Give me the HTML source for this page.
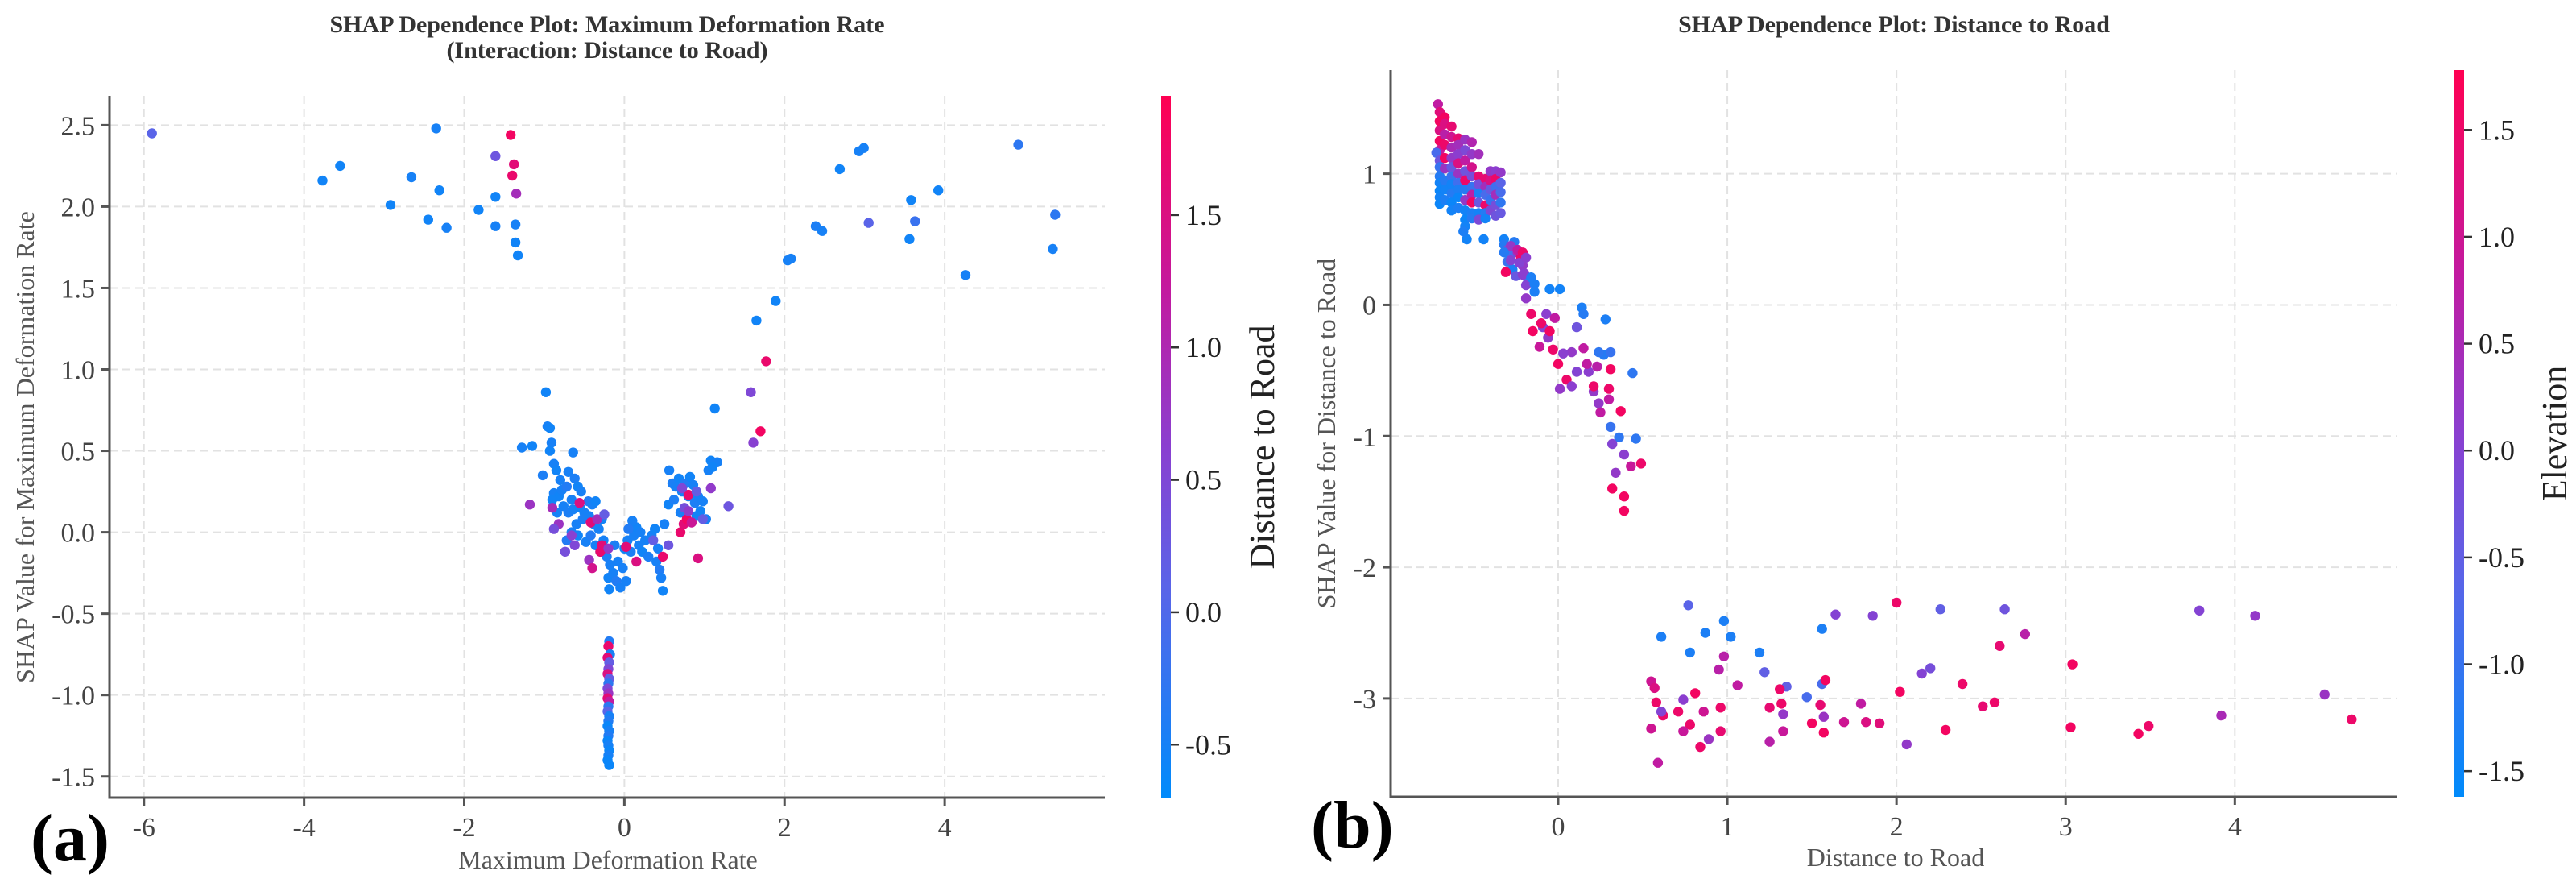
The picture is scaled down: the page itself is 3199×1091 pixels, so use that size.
<!DOCTYPE html>
<html><head><meta charset="utf-8">
<style>
html,body{margin:0;padding:0;background:#fff;}
svg{display:block;}
text{font-family:"Liberation Serif",serif;}
</style></head>
<body>
<svg id="fig" width="3199" height="1091" viewBox="0 0 3199 1091" xmlns="http://www.w3.org/2000/svg">
<defs>
<linearGradient id="cmap" x1="0" y1="1" x2="0" y2="0">
<stop offset="0" stop-color="#008bfb"/><stop offset="0.3" stop-color="#5a64e8"/><stop offset="0.5" stop-color="#8a3fd0"/><stop offset="0.72" stop-color="#c21aa0"/><stop offset="1" stop-color="#ff0052"/>
</linearGradient>
</defs>
<g id="pa"></g>
<g id="pb"></g>
</svg>
<script>
// Panel (a) data: [feature value, SHAP value, interaction value]
const aTop = [[-5.9,2.45,0.1],[-2.35,2.48,-0.5],[-3.77,2.16,-0.55],[-3.55,2.25,-0.55],[-2.92,2.01,-0.55],[-2.66,2.18,-0.5],[-2.31,2.10,-0.55],[-2.45,1.92,-0.55],[-2.22,1.87,-0.5],[-1.82,1.98,-0.55],[-1.61,2.06,-0.55],[-1.61,1.88,-0.5],[-1.61,2.31,0.3],[-1.42,2.44,1.8],[-1.38,2.26,1.6],[-1.40,2.19,1.7],[-1.35,2.08,0.9],[-1.36,1.89,-0.5],[-1.36,1.78,-0.55],[-1.33,1.70,-0.55],
[4.92,2.38,-0.3],[2.99,2.36,-0.5],[2.93,2.34,-0.5],[2.69,2.23,-0.55],[3.58,2.04,-0.55],[3.92,2.10,-0.55],[3.05,1.90,0.1],[3.63,1.91,-0.2],[3.56,1.80,-0.55],[2.39,1.88,-0.45],[2.47,1.85,-0.5],[2.04,1.67,-0.5],[2.08,1.68,-0.5],[5.38,1.95,-0.3],[5.35,1.74,-0.5],[4.26,1.58,-0.5],[1.89,1.42,-0.55],[1.65,1.30,-0.55],[1.77,1.05,1.7],[1.58,0.86,0.5],[1.70,0.62,1.8],[1.61,0.55,0.6],[1.13,0.76,-0.55]];
const aV = [[-0.98,0.86,-0.55],[-0.96,0.65,-0.5],[-0.93,0.64,-0.55],[-1.28,0.52,-0.5],[-1.15,0.53,-0.55],[-0.91,0.55,-0.5],[-0.93,0.50,-0.55],[-0.64,0.49,-0.5],[-1.02,0.35,-0.45],[-0.88,0.42,-0.5],[-0.85,0.38,-0.55],[-0.70,0.37,-0.5],[-0.62,0.33,-0.45],[-0.88,0.24,-0.5],[-0.82,0.22,-0.55],[-0.78,0.26,-0.5],[-0.72,0.28,-0.4],[-0.66,0.20,-0.5],[-0.58,0.28,-0.55],[-0.54,0.25,-0.5],[-0.90,0.20,-0.55],[-0.76,0.16,-0.5],[-0.70,0.12,-0.45],[-0.64,0.14,-0.5],[-0.55,0.15,-0.55],[-0.50,0.12,-0.5],[-0.45,0.19,-0.4],[-0.40,0.17,-0.5],[-0.36,0.19,-0.55],[-0.60,0.05,-0.5],[-0.52,0.08,-0.45],[-0.44,0.10,-0.5],[-0.38,0.05,-0.55],[-0.32,0.02,-0.5],[-0.72,-0.05,-0.4],[-0.66,0.00,-0.5],[-0.58,-0.02,-0.55],[-0.48,-0.06,-0.5],[-0.42,-0.02,-0.4],[-0.36,-0.08,-0.5],[-0.30,-0.12,-0.55],[-0.26,-0.05,-0.5],[-0.22,-0.15,-0.45],[-0.18,-0.20,-0.5],[-0.20,-0.28,-0.55],[-0.14,-0.25,-0.5],[-0.10,-0.30,-0.4],[-0.08,-0.18,-0.5],[-0.19,-0.35,-0.55],[-0.05,-0.34,-0.5],[-0.02,-0.22,-0.5],[0.00,-0.10,-0.55],[0.04,-0.05,-0.5],[0.08,-0.12,-0.45],[0.12,-0.02,-0.5],[0.15,0.03,-0.55],[0.10,0.07,-0.5],[0.05,0.02,-0.4],[0.18,-0.08,-0.5],[0.22,-0.12,-0.55],[0.26,-0.05,-0.5],[0.30,-0.15,-0.45],[0.34,-0.02,-0.5],[0.38,0.02,-0.55],[0.42,-0.10,-0.5],[0.44,-0.23,-0.4],[0.46,-0.28,-0.5],[0.48,-0.36,-0.55],[0.40,-0.18,-0.5],[0.50,0.05,-0.5],[0.55,0.17,-0.55],[0.56,0.38,-0.5],[0.60,0.30,-0.45],[0.64,0.28,-0.5],[0.68,0.33,-0.55],[0.72,0.25,-0.5],[0.76,0.30,-0.4],[0.80,0.22,-0.5],[0.82,0.34,-0.55],[0.86,0.29,-0.5],[0.88,0.18,-0.45],[0.92,0.22,-0.5],[0.95,0.13,-0.55],[0.98,0.19,-0.5],[1.02,0.08,-0.5],[0.90,0.10,-0.55],[0.70,0.12,-0.5],[0.62,0.20,-0.45],[1.05,0.38,-0.5],[1.08,0.44,-0.55],[1.12,0.42,-0.5],[1.16,0.43,-0.5],[1.10,0.40,-0.55],[0.02,-0.30,-0.5],[-0.12,-0.08,-0.45],[0.20,0.00,-0.5],[-0.28,0.08,-0.55],[-0.80,0.32,-0.5],[-0.84,0.12,-0.5],
[-1.18,0.17,0.8],[-0.90,0.15,0.9],[-0.82,0.05,0.8],[-0.88,0.02,0.4],[-0.74,-0.12,0.4],[-0.66,-0.02,0.6],[-0.56,0.18,1.5],[-0.42,0.06,1.6],[-0.34,0.08,0.9],[-0.44,-0.17,0.8],[-0.40,-0.22,1.4],[-0.30,-0.12,1.7],[-0.28,-0.08,1.6],[-0.20,-0.10,0.7],[0.02,-0.09,1.6],[0.15,-0.18,1.5],[0.48,-0.15,1.7],[0.70,0.00,1.7],[0.74,0.05,1.6],[0.78,0.08,1.8],[0.80,0.23,1.7],[0.84,0.06,1.3],[0.92,-0.16,1.5],[0.72,0.27,0.5],[0.75,0.15,0.4],[0.90,0.25,0.2],[1.08,0.27,0.7],[1.30,0.16,0.3],[0.80,0.13,0.7],[0.98,0.08,0.2],[-0.25,0.11,0.2],[0.36,-0.05,0.2],[0.55,-0.08,0.3],[-0.62,-0.08,0.5]];
const aCol = [[-0.19,-0.67,-0.4],[-0.20,-0.70,1.7],[-0.18,-0.75,-0.5],[-0.21,-0.77,1.6],[-0.19,-0.80,0.2],[-0.20,-0.84,0.5],[-0.21,-0.87,1.5],[-0.19,-0.90,0.2],[-0.20,-0.93,-0.3],[-0.21,-0.96,0.5],[-0.20,-0.99,0.8],[-0.21,-1.02,1.6],[-0.19,-1.04,1.2],[-0.20,-1.07,-0.3],[-0.21,-1.10,0.1],[-0.19,-1.13,-0.5],[-0.20,-1.16,-0.4],[-0.21,-1.19,-0.6],[-0.19,-1.22,-0.5],[-0.20,-1.25,-0.4],[-0.21,-1.28,-0.6],[-0.20,-1.31,-0.5],[-0.19,-1.34,-0.6],[-0.20,-1.37,-0.5],[-0.21,-1.40,-0.6],[-0.19,-1.43,-0.6]];
const aXTicks = [-6,-4,-2,0,2,4];
const aYTicks = [-1.5,-1.0,-0.5,0.0,0.5,1.0,1.5,2.0,2.5];
const aYTickLabels = ["-1.5","-1.0","-0.5","0.0","0.5","1.0","1.5","2.0","2.5"];
const aCTicks = [-0.5,0.0,0.5,1.0,1.5];
const aCTickLabels = ["-0.5","0.0","0.5","1.0","1.5"];

// Panel (b) data
const bTop = [[-0.71,1.53,0.8],[-0.70,1.47,1.3],[-0.70,1.40,1.6],[-0.70,1.33,1.2],[-0.70,1.25,1.6],[-0.70,1.18,0.9],[-0.72,1.16,-0.8],[-0.70,1.10,-0.3],[-0.70,1.05,-1.0],[-0.70,0.98,-1.2],[-0.70,0.93,-1.4],[-0.70,0.87,-1.5],[-0.70,0.82,-1.4],[-0.70,0.77,-1.5],
[-0.67,1.43,1.6],[-0.67,1.38,1.2],[-0.67,1.30,0.7],[-0.67,1.22,1.5],[-0.67,1.12,1.6],[-0.67,1.04,0.3],[-0.67,0.95,-1.2],[-0.67,0.88,-1.4],[-0.67,0.80,-1.3],
[-0.63,1.36,1.4],[-0.63,1.28,1.0],[-0.63,1.20,0.5],[-0.63,1.12,0.2],[-0.63,1.05,-0.4],[-0.63,0.98,-1.0],[-0.63,0.92,-1.4],[-0.63,0.85,-1.2],[-0.63,0.78,-1.5],[-0.63,0.72,-1.4],
[-0.59,1.27,1.4],[-0.59,1.22,0.4],[-0.59,1.15,0.1],[-0.59,1.08,1.2],[-0.59,1.00,0.3],[-0.59,0.93,-0.9],[-0.59,0.88,-1.3],[-0.59,0.82,-1.5],[-0.59,0.74,-1.3],
[-0.55,1.26,0.3],[-0.55,1.18,-0.1],[-0.55,1.10,0.8],[-0.55,1.02,-0.3],[-0.55,0.95,1.5],[-0.55,0.88,-1.2],[-0.55,0.80,0.2],[-0.55,0.72,-1.4],[-0.55,0.65,-1.5],[-0.55,0.60,-1.4],
[-0.51,1.24,0.6],[-0.51,1.15,0.2],[-0.51,1.05,1.1],[-0.51,0.98,-0.2],[-0.51,0.90,-1.0],[-0.51,0.84,0.7],[-0.51,0.78,1.6],[-0.51,0.70,-1.3],[-0.51,0.66,-1.2],
[-0.47,1.15,0.4],[-0.47,0.98,1.4],[-0.47,0.92,-0.2],[-0.47,0.85,-1.3],[-0.47,0.78,-0.4],[-0.47,0.70,-1.4],[-0.47,0.65,-0.1],
[-0.43,0.96,1.4],[-0.43,0.90,0.4],[-0.43,0.84,-0.8],[-0.43,0.76,1.5],[-0.43,0.70,-1.2],[-0.43,0.66,-1.4],
[-0.40,1.02,0.2],[-0.40,0.95,1.2],[-0.40,0.88,-0.4],[-0.40,0.80,-1.0],[-0.40,0.72,-0.1],
[-0.37,1.02,0.1],[-0.37,0.96,1.5],[-0.37,0.90,-0.9],[-0.37,0.84,0.4],[-0.37,0.76,-0.2],[-0.37,0.68,-0.3],
[-0.34,1.01,0.2],[-0.34,0.93,-0.6],[-0.34,0.86,-0.8],[-0.34,0.78,-1.1],[-0.34,0.70,-0.4],
[-0.54,0.50,-1.4],[-0.44,0.50,-1.4],[-0.32,0.50,-1.4],[-0.56,0.56,-1.3],
[-0.32,0.46,-1.2],[-0.30,0.42,-0.2],[-0.28,0.38,-0.8],[-0.26,0.48,-1.2],[-0.24,0.40,0.3],[-0.22,0.36,1.5],[-0.21,0.30,0.2],[-0.30,0.33,-1.0],[-0.27,0.27,-1.3],[-0.31,0.25,1.6],[-0.25,0.22,-0.4],[-0.20,0.24,0.1],[-0.18,0.20,-1.0],
[-0.19,0.05,0.2],[-0.19,0.15,0.0],[-0.21,0.23,0.1],[-0.23,0.32,0.0],[-0.28,0.45,0.2],[-0.24,0.42,0.8],[-0.21,0.40,1.5],[-0.32,0.40,-1.2],[-0.28,0.34,0.0],[-0.19,0.36,0.1],[-0.14,0.16,-1.3],
[-0.16,0.21,-1.3],[-0.14,0.10,-1.3],[-0.05,0.12,-1.4],[0.01,0.12,-1.4],[0.14,-0.02,-1.3],[0.15,-0.07,-1.2],[0.28,-0.11,-1.3],[0.11,-0.17,-0.3],[0.27,-0.38,-1.2],[0.31,-0.36,-1.0],[0.44,-0.52,-1.1],
[-0.16,-0.07,1.5],[-0.15,-0.20,1.6],[-0.11,-0.32,0.9],[-0.03,-0.34,1.5],[0.00,-0.45,1.6],[0.01,-0.64,0.2],[0.05,-0.57,1.5],[0.08,-0.62,0.1],[0.11,-0.51,0.0],[0.18,-0.51,0.1],[0.17,-0.45,0.8],[0.23,-0.47,0.7],[0.21,-0.66,0.2],[0.24,-0.36,-1.1],[0.21,-0.62,1.5],[0.15,-0.33,0.8],[0.08,-0.36,0.2],[0.03,-0.37,0.1],[-0.06,-0.25,0.2],[-0.09,-0.17,0.0],[-0.07,-0.07,0.1],[-0.02,-0.10,0.8],[-0.10,-0.14,1.5],[-0.05,-0.20,1.6],
[0.31,-0.49,1.6],[0.30,-0.64,1.5],[0.24,-0.75,0.2],[0.30,-0.72,0.8],[0.25,-0.82,0.8],[0.37,-0.81,1.6],[0.31,-0.93,-1.0],[0.36,-1.01,-1.1],[0.46,-1.02,-1.1],[0.32,-1.06,0.0],[0.39,-1.14,0.1],[0.49,-1.21,1.5],[0.43,-1.23,0.9],[0.34,-1.28,0.2],[0.32,-1.40,1.6],[0.39,-1.46,1.6],[0.39,-1.57,1.6]];
const bLow = [[0.77,-2.29,-0.6],[0.61,-2.53,-1.3],[0.78,-2.65,-1.3],[0.87,-2.50,-1.3],[0.98,-2.41,-1.3],[1.02,-2.53,-1.3],[1.19,-2.65,-1.3],[1.22,-2.80,-0.5],[1.56,-2.47,-1.3],[1.47,-2.99,-0.8],[1.56,-2.89,-0.8],[1.35,-2.91,-0.5],[1.64,-2.36,0.0],[1.86,-2.37,0.0],[2.00,-2.27,1.5],[2.26,-2.32,-0.5],[2.64,-2.32,-0.3],[2.76,-2.51,0.7],[2.61,-2.60,1.4],[3.04,-2.74,1.6],[2.15,-2.81,0.0],[2.20,-2.77,-0.2],[2.39,-2.89,1.5],[2.02,-2.95,1.6],[2.51,-3.06,1.4],[2.58,-3.03,1.5],[2.29,-3.24,1.6],[2.06,-3.35,0.2],[3.79,-2.33,0.0],[4.12,-2.37,0.2],[4.53,-2.97,0.3],[3.92,-3.13,0.5],[4.69,-3.16,1.5],[3.03,-3.22,1.6],[3.43,-3.27,1.6],[3.49,-3.21,1.5],[1.79,-3.04,0.8],[1.82,-3.18,1.2],[1.90,-3.19,1.3],[1.69,-3.18,1.0],[1.50,-3.19,1.6],[1.57,-3.26,1.6],[1.57,-3.14,0.3],[1.55,-3.05,1.4],[1.58,-2.86,1.6],[1.25,-3.07,1.4],[1.25,-3.33,0.7],[1.32,-3.04,1.5],[1.33,-3.12,0.2],[1.33,-3.25,0.9],[1.31,-2.93,1.5],[1.06,-2.90,0.8],[0.98,-2.68,0.7],[0.95,-2.78,0.7],[0.96,-3.07,1.5],[0.96,-3.25,1.4],[0.81,-2.96,1.6],[0.86,-3.10,1.0],[0.84,-3.37,1.5],[0.89,-3.31,0.3],[0.78,-3.20,1.5],[0.74,-3.25,0.9],[0.71,-3.10,1.5],[0.74,-3.01,0.1],[0.62,-3.13,1.5],[0.61,-3.10,0.0],[0.59,-3.49,0.8],[0.58,-3.03,1.5],[0.55,-2.87,1.0],[0.57,-2.92,1.2],[0.55,-3.23,1.0]];
const bXTicks = [0,1,2,3,4];
const bYTicks = [-3,-2,-1,0,1];
const bCTicks = [-1.5,-1.0,-0.5,0.0,0.5,1.0,1.5];
const bCTickLabels = ["-1.5","-1.0","-0.5","0.0","0.5","1.0","1.5"];

const NS = "http://www.w3.org/2000/svg";
const STOPS = [[0,[0,139,251]],[0.3,[90,100,232]],[0.5,[138,63,208]],[0.72,[194,26,160]],[1,[255,0,82]]];
function cmap(t){
  t=Math.max(0,Math.min(1,t));
  for(let i=1;i<STOPS.length;i++){
    if(t<=STOPS[i][0]){const a=STOPS[i-1],b=STOPS[i];const f=(t-a[0])/(b[0]-a[0]);
      const c=a[1].map((v,k)=>Math.round(v+(b[1][k]-v)*f));return `rgb(${c[0]},${c[1]},${c[2]})`;}
  }
  return "rgb(255,0,82)";
}
function mk(parent,tag,attrs,txt){const e=document.createElementNS(NS,tag);for(const k in attrs)e.setAttribute(k,attrs[k]);if(txt!==undefined)e.textContent=txt;parent.appendChild(e);return e;}

function panel(g,cfg){
  const X=v=>cfg.x0+(v-cfg.xmin)/(cfg.xmax-cfg.xmin)*(cfg.x1-cfg.x0);
  const Y=v=>cfg.y1-(v-cfg.ymin)/(cfg.ymax-cfg.ymin)*(cfg.y1-cfg.y0);
  const C=v=>(v-cfg.cmin)/(cfg.cmax-cfg.cmin);
  const grid=mk(g,'g',{});
  
  
  cfg.xt.forEach(v=>{mk(grid,'line',{x1:X(v),x2:X(v),y1:cfg.y0,y2:cfg.y1,stroke:'#e2e2e2','stroke-width':2,'stroke-dasharray':'10,6'});});
  cfg.yt.forEach(v=>{mk(grid,'line',{x1:cfg.x0,x2:cfg.x1,y1:Y(v),y2:Y(v),stroke:'#e2e2e2','stroke-width':2,'stroke-dasharray':'10,6'});});
  const pts=mk(g,'g',{});
  
  
  cfg.data.forEach(arr=>arr.forEach(p=>{
    const c=mk(pts,'circle',{cx:X(p[0]).toFixed(1),cy:Y(p[1]).toFixed(1),r:6.2,fill:cmap(C(p[2]))});
    
    
  }));
  const ax=mk(g,'g',{});
  
  
  mk(ax,'line',{x1:cfg.x0,x2:cfg.x0,y1:cfg.y0,y2:cfg.y1+1.5,stroke:'#555','stroke-width':3});
  mk(ax,'line',{x1:cfg.x0-1.5,x2:cfg.x1,y1:cfg.y1,y2:cfg.y1,stroke:'#555','stroke-width':3});
  cfg.xt.forEach((v,i)=>{mk(ax,'line',{x1:X(v),x2:X(v),y1:cfg.y1,y2:cfg.y1+10,stroke:'#555','stroke-width':3});
    const t=mk(ax,'text',{x:X(v),y:cfg.y1+48,'text-anchor':'middle','font-size':34,fill:'#444'},cfg.xtl[i]);
    
    });
  cfg.yt.forEach((v,i)=>{mk(ax,'line',{x1:cfg.x0-10,x2:cfg.x0,y1:Y(v),y2:Y(v),stroke:'#555','stroke-width':3});
    const t=mk(ax,'text',{x:cfg.x0-18,y:Y(v)+12,'text-anchor':'end','font-size':34,fill:'#444'},cfg.ytl[i]);
    
    });
  const cb=mk(g,'g',{});
  
  
  mk(cb,'rect',{x:cfg.cbx,y:cfg.y0,width:12,height:cfg.y1-cfg.y0,fill:'url(#cmap)'});
  const CY=v=>cfg.y1-C(v)*(cfg.y1-cfg.y0);
  cfg.ct.forEach((v,i)=>{mk(cb,'line',{x1:cfg.cbx+12,x2:cfg.cbx+22,y1:CY(v),y2:CY(v),stroke:'#333','stroke-width':2.5});
    const t=mk(cb,'text',{x:cfg.cbx+30,y:CY(v)+12,'font-size':36,fill:'#222'},cfg.ctl[i]);
    
    });
}

const pa=document.getElementById('pa');
panel(pa,{x0:136,x1:1372,y0:119,y1:990,xmin:-6.43,xmax:6.0,ymin:-1.63,ymax:2.68,cmin:-0.70,cmax:1.95,cbx:1442,
  xt:aXTicks,xtl:aXTicks.map(String),yt:aYTicks,ytl:aYTickLabels,ct:aCTicks,ctl:aCTickLabels,data:[aTop,aV,aCol]});
const pb=document.getElementById('pb');
panel(pb,{x0:1727,x1:2977,y0:87,y1:989,xmin:-0.99,xmax:4.96,ymin:-3.75,ymax:1.79,cmin:-1.62,cmax:1.78,cbx:3048,
  xt:bXTicks,xtl:bXTicks.map(String),yt:bYTicks,ytl:bYTicks.map(String),ct:bCTicks,ctl:bCTickLabels,data:[bTop,bLow]});
</script>
<script>
(function(){
const fig=document.getElementById('fig');
const NS="http://www.w3.org/2000/svg";
function t(name,attrs,txt){const e=document.createElementNS(NS,'text');for(const k in attrs)e.setAttribute(k,attrs[k]);e.textContent=txt;


fig.appendChild(e);}
t('title-a-line1',{x:754,y:40,'text-anchor':'middle','font-size':30,'font-weight':'bold',fill:'#333'},'SHAP Dependence Plot: Maximum Deformation Rate');
t('title-a-line2',{x:754,y:72,'text-anchor':'middle','font-size':30,'font-weight':'bold',fill:'#333'},'(Interaction: Distance to Road)');
t('title-b',{x:2352,y:40,'text-anchor':'middle','font-size':30,'font-weight':'bold',fill:'#333'},'SHAP Dependence Plot: Distance to Road');
t('x-axis-title-a',{x:755,y:1078,'text-anchor':'middle','font-size':32,fill:'#555'},'Maximum Deformation Rate');
t('x-axis-title-b',{x:2354,y:1075,'text-anchor':'middle','font-size':32,fill:'#555'},'Distance to Road');
t('y-axis-title-a',{x:0,y:0,'text-anchor':'middle','font-size':32,fill:'#555',transform:'translate(42,555) rotate(-90)'},'SHAP Value for Maximum Deformation Rate');
t('y-axis-title-b',{x:0,y:0,'text-anchor':'middle','font-size':32,fill:'#555',transform:'translate(1658,538) rotate(-90)'},'SHAP Value for Distance to Road');
t('colorbar-title-a',{x:0,y:0,'text-anchor':'middle','font-size':44,fill:'#222',transform:'translate(1582,555) rotate(-90)'},'Distance to Road');
t('colorbar-title-b',{x:0,y:0,'text-anchor':'middle','font-size':44,fill:'#222',transform:'translate(3187,538) rotate(-90)'},'Elevation');
t('panel-label-a',{x:38,y:1068,'font-size':84,'font-weight':'bold',fill:'#000'},'(a)');
t('panel-label-b',{x:1628,y:1052,'font-size':84,'font-weight':'bold',fill:'#000'},'(b)');
})();
</script>
</body></html>
